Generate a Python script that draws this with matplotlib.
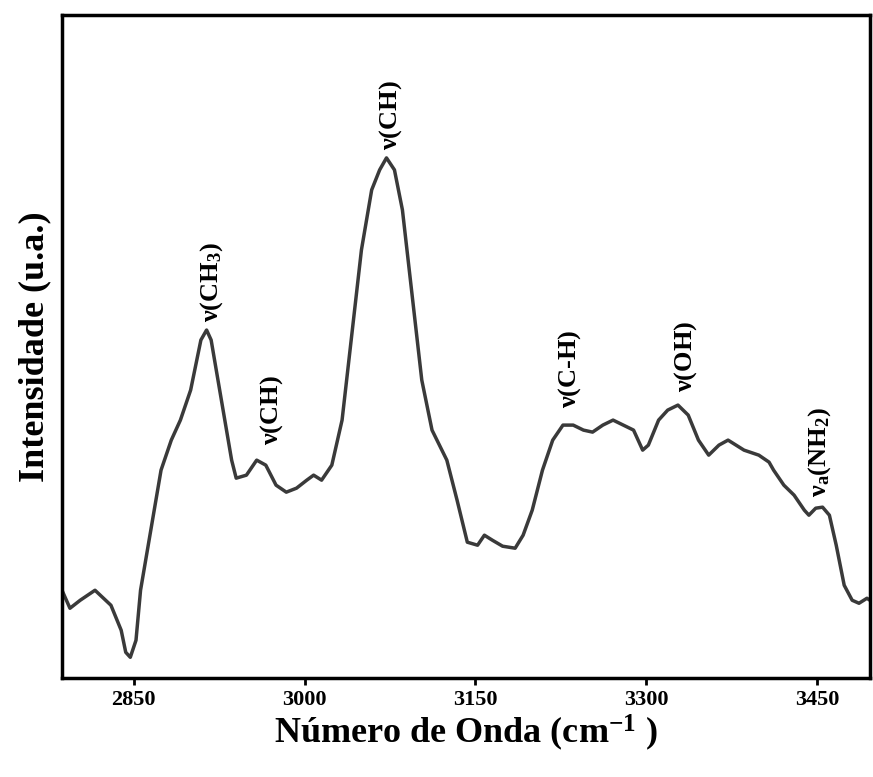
import matplotlib.pyplot as plt

wavenumber = [2787, 2794, 2803, 2816, 2830, 2839, 2843, 2847, 2852, 2856, 2865, 2874, 2883, 2891,
              2900, 2909, 2914, 2918, 2927, 2936, 2940, 2949, 2958, 2966, 2975, 2984, 2993, 3002,
              3008, 3015, 3024, 3033, 3042, 3050, 3059, 3066, 3072, 3079, 3086, 3094, 3103, 3112,
              3125, 3134, 3143, 3152, 3158, 3165, 3174, 3185, 3192, 3200, 3209, 3218, 3227, 3236,
              3245, 3253, 3262, 3271, 3280, 3289, 3297, 3302, 3311, 3319, 3328, 3337, 3346, 3355,
              3364, 3372, 3386, 3399, 3408, 3412, 3421, 3430, 3439, 3443, 3449, 3455, 3461, 3467,
              3474, 3481, 3487, 3494, 3503]
y_px = [590, 608, 600, 590, 605, 630, 652, 657, 640, 590, 530, 470, 440, 420,
        390, 340, 330, 340, 400, 460, 478, 475, 460, 465, 485, 492, 488, 480,
        475, 480, 465, 420, 330, 250, 190, 170, 158, 170, 210, 290, 380, 430,
        460, 500, 542, 545, 535, 540, 546, 548, 535, 510, 470, 440, 425, 425,
        430, 432, 425, 420, 425, 430, 450, 445, 420, 410, 405, 415, 440, 455,
        445, 440, 450, 455, 462, 470, 485, 495, 510, 515, 508, 507, 515, 545,
        585, 600, 603, 598, 605]
intensity = [700 - v for v in y_px]

labels = [r"$\mathbf{\nu(CH_3)}$", r"$\mathbf{\nu(CH)}$", r"$\mathbf{\nu(CH)}$",
          r"$\mathbf{\nu(C\text{-}H)}$", r"$\mathbf{\nu(OH)}$", r"$\mathbf{\nu_a(NH_2)}$"]
label_x = [2918, 2971, 3076, 3233, 3335, 3452]
label_y = [378, 255, 550, 292, 308, 203]

plt.rcParams['font.family'] = ['Liberation Serif']
plt.rcParams['font.weight'] = 'bold'
plt.rcParams['mathtext.fontset'] = 'custom'
plt.rcParams['mathtext.rm'] = 'Liberation Serif:bold'
plt.rcParams['mathtext.bf'] = 'Liberation Serif:bold'
plt.rcParams['mathtext.it'] = 'Liberation Serif:bold'

fig = plt.figure(figsize=(8.73, 7.77), dpi=100)
ax = fig.add_axes([0.071, 0.127, 0.926, 0.854])
ax.plot(wavenumber, intensity, color='#3a3a3a', lw=2.5)
for t, x, y in zip(labels, label_x, label_y):
    ax.text(x, y, t, rotation=90, ha='center', va='bottom', fontsize=19)

ax.set_xlim(2787, 3497)
ax.set_ylim(22, 685)
ax.set_xticks([2850, 3000, 3150, 3300, 3450])
ax.set_yticks([])
ax.tick_params(axis='x', labelsize=16, width=2, length=5)
for s in ax.spines.values():
    s.set_linewidth(2.5)
ax.set_xlabel(r"Número de Onda (cm$^{-1}$ )", fontsize=26, fontweight='bold', labelpad=2)
ax.set_ylabel("Intensidade (u.a.)", fontsize=26, fontweight='bold', labelpad=8)
fig.savefig("out.png")
